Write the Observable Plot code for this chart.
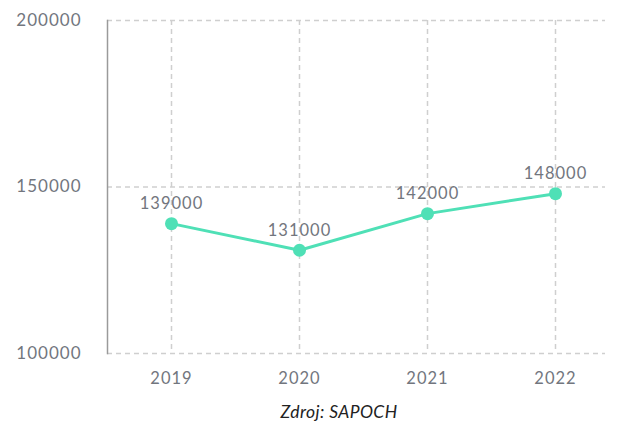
<!DOCTYPE html>
<html>
<head>
<meta charset="utf-8">
<script src="https://cdn.jsdelivr.net/npm/d3@7"></script>
<script src="https://cdn.jsdelivr.net/npm/@observablehq/plot@0.6"></script>
<style>
  html, body { margin: 0; padding: 0; background: #fff; }
  #chart { width: 619px; height: 398px; }
  .caption { font-family: Lato, sans-serif; font-style: italic; font-size: 17.5px; color: #222; width: 619px; height: 25px; position: relative; }
  .caption span { position: absolute; left: 339px; transform: translateX(-50%); top: 4px; line-height: 19px; white-space: nowrap; letter-spacing: 0.4px; }
  svg text { letter-spacing: 1px; }
</style>
</head>
<body>
<div id="chart"></div>
<div class="caption"><span></span></div>
<script>
const years = ["2019", "2020", "2021", "2022"];
const values = [139000, 131000, 142000, 148000];
const yTicks = [100000, 150000, 200000];
const caption = "Zdroj: SAPOCH";

const data = years.map((y, i) => ({year: y, value: values[i]}));
const lineColor = "#4fe0b6";
const textColor = "#72767e";
const gridColor = "#cfcfcf";

const plot = Plot.plot({
  width: 619,
  height: 398,
  marginTop: 20,
  marginBottom: 45,
  marginLeft: 107,
  marginRight: 14,
  style: {fontFamily: "Lato, sans-serif", fontSize: "16.5px", color: textColor, background: "#fff"},
  x: {type: "point", domain: years, range: [171, 555], padding: 0},
  y: {domain: [100000, 200000]},
  marks: [
    Plot.gridY(yTicks, {stroke: gridColor, strokeOpacity: 1, strokeWidth: 1.5, strokeDasharray: "5,4"}),
    Plot.gridX(years, {stroke: gridColor, strokeOpacity: 1, strokeWidth: 1.5, strokeDasharray: "5,4"}),
    Plot.frame({anchor: "left", stroke: "#9a9a9a", strokeWidth: 1.5}),
    Plot.axisY(yTicks, {tickSize: 0, tickPadding: 26, tickFormat: d => String(d), fill: textColor, fontSize: 17, label: null}),
    Plot.axisX(years, {tickSize: 0, tickPadding: 19, fill: textColor, label: null}),
    Plot.line(data, {x: "year", y: "value", stroke: lineColor, strokeWidth: 3}),
    Plot.dot(data, {x: "year", y: "value", r: 6.5, fill: lineColor}),
    Plot.text(data, {x: "year", y: "value", text: d => String(d.value), dy: -20, fill: textColor, fontSize: 16.5})
  ]
});
document.getElementById("chart").appendChild(plot);
document.querySelector(".caption span").textContent = caption;
</script>
</body>
</html>
